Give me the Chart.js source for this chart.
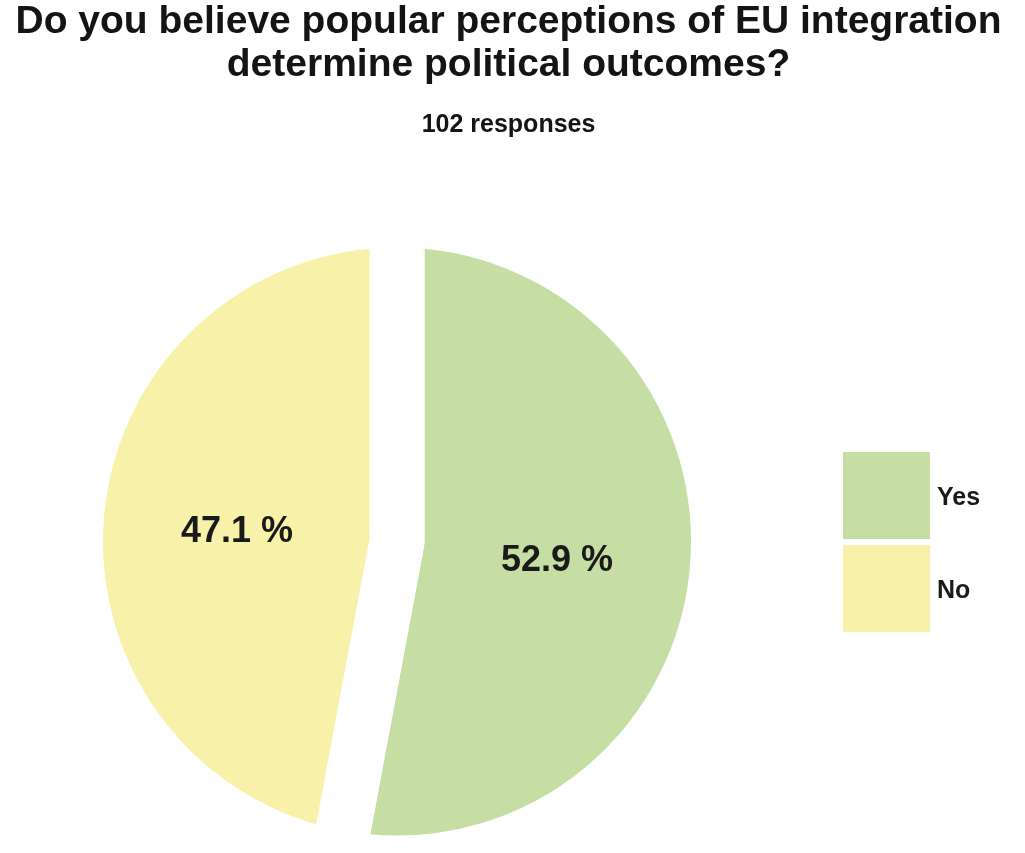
<!DOCTYPE html>
<html>
<head>
<meta charset="utf-8">
<script src="https://cdn.jsdelivr.net/npm/chart.js@4.4.1/dist/chart.umd.min.js"></script>
<style>
  html, body { margin: 0; padding: 0; background: #ffffff; }
  #wrap { position: relative; width: 1025px; height: 853px; }
  #c { position: absolute; left: 0; top: 0; }
  .lg-box { position: absolute; width: 87px; height: 87px; }
  .lg-text { position: absolute; font: bold 25px "Liberation Sans", Arial, sans-serif; color: #1a1a1a; line-height: 29px; }
</style>
</head>
<body>
<div id="wrap">
  <canvas id="c" width="1025" height="853"></canvas>
  <div id="legend"></div>
</div>
<script>
const titleLines = ["Do you believe popular perceptions of EU integration", "determine political outcomes?"];
const subtitleText = "102 responses";
const categories = ["Yes", "No"];
const responses = [54, 48];
const sliceColors = ["#c6dea3", "#f8f1a9"];

const FONT = '"Liberation Sans", Arial, sans-serif';

// Headings centred over the whole canvas (not just the pie's area)
const headings = {
  id: 'headings',
  afterDraw(chart) {
    const ctx = chart.ctx;
    const cx = chart.width / 2 - 4;
    ctx.save();
    ctx.fillStyle = '#141414';
    ctx.textAlign = 'center';
    ctx.textBaseline = 'middle';
    ctx.font = 'bold 39px ' + FONT;
    titleLines.forEach((line, i) => ctx.fillText(line, cx, 22 + i * 43));
    ctx.font = 'bold 25px ' + FONT;
    ctx.fillText(subtitleText, cx, 125);
    ctx.restore();
  }
};

const pctLabels = {
  id: 'pctLabels',
  afterDatasetsDraw(chart) {
    const ctx = chart.ctx;
    const meta = chart.getDatasetMeta(0);
    const data = chart.data.datasets[0].data;
    const total = data.reduce((a, b) => a + b, 0);
    ctx.save();
    ctx.font = 'bold 36px ' + FONT;
    ctx.fillStyle = '#1a1a1a';
    ctx.textAlign = 'center';
    ctx.textBaseline = 'middle';
    meta.data.forEach((el, i) => {
      const p = el.getCenterPoint();
      const txt = (data[i] / total * 100).toFixed(1) + ' %';
      ctx.fillText(txt, p.x, p.y + 5);
    });
    ctx.restore();
  }
};

new Chart(document.getElementById('c'), {
  type: 'pie',
  data: {
    labels: categories,
    datasets: [{
      data: responses,
      backgroundColor: sliceColors,
      borderColor: '#ffffff',
      borderWidth: 55,
      radius: 321.5,
      clip: false
    }]
  },
  options: {
    responsive: false,
    animation: false,
    layout: { padding: { left: 0, right: 231, top: 230, bottom: 0 } },
    plugins: {
      legend: { display: false },
      tooltip: { enabled: false },
      title: { display: false },
      subtitle: { display: false }
    }
  },
  plugins: [pctLabels, headings]
});

// legend
const legend = document.getElementById('legend');
categories.forEach((name, i) => {
  const top = 452 + i * 93;
  const box = document.createElement('div');
  box.className = 'lg-box';
  box.style.left = '843px';
  box.style.top = top + 'px';
  box.style.background = sliceColors[i];
  legend.appendChild(box);
  const t = document.createElement('div');
  t.className = 'lg-text';
  t.style.left = '937px';
  t.style.top = (top + 30) + 'px';
  t.textContent = name;
  legend.appendChild(t);
});
</script>
</body>
</html>
